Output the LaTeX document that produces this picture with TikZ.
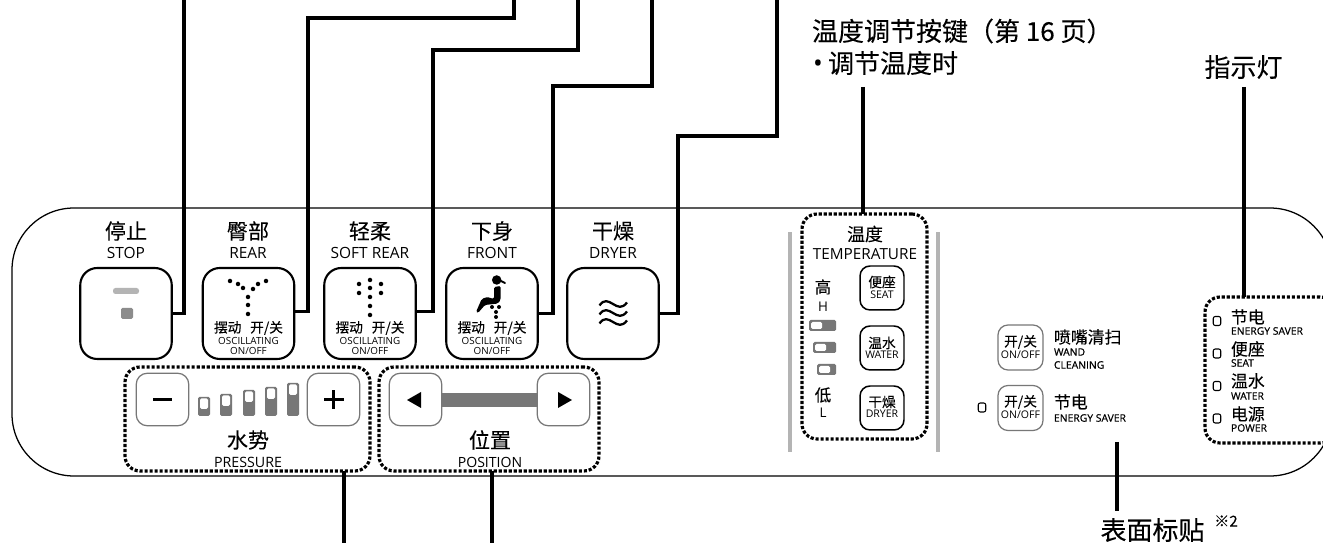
\documentclass[tikz,border=0pt]{standalone}
\usepackage{fontspec}
\setmainfont{Open Sans}
\newfontfamily\cjk{Noto Sans CJK SC}[FakeBold=0.1]
\newfontfamily\enbold{Open Sans}[FakeBold=0.6]
\usepackage{xcolor}
\definecolor{darkgray}{HTML}{777777}
\definecolor{midgray}{HTML}{8C8C8C}
\definecolor{railgray}{HTML}{B4B4B4}
\newcommand{\sz}[1]{\fontsize{#1}{#1}\selectfont}

\tikzset{
every node/.style = {inner sep=0pt, outer sep=0pt, align=center},
panel/.style = {draw, line width=0.72pt, rounded corners=1.24cm},
lead/.style = {draw, line width=1.8pt},
bigbtn/.style = {draw, line width=1.2pt, rounded corners=0.34cm, minimum width=1.83cm, minimum height=1.82cm},
softbtn/.style = {draw=darkgray, line width=0.7pt, rounded corners=0.22cm, minimum width=1.05cm, minimum height=1.05cm},
smallbtn/.style = {draw, line width=0.85pt, rounded corners=0.2cm, minimum width=0.88cm, minimum height=0.88cm},
onoffbtn/.style = {draw=darkgray, line width=0.7pt, rounded corners=0.2cm, minimum width=0.9cm, minimum height=0.9cm},
dotbox/.style = {draw, line width=1.8pt, dash pattern=on 1.8pt off 1.05pt, rounded corners=0.3cm},
led/.style = {draw, line width=0.6pt, rounded corners=0.04cm, minimum width=0.15cm, minimum height=0.18cm},
cnbig/.style = {font=\cjk\sz{14.8}},
cnmid/.style = {font=\cjk\sz{12}},
cnsmall/.style = {font=\cjk\sz{7.8}},
enmid/.style = {font=\sz{8.8}},
ensmall/.style = {font=\sz{5.6}},
enbtn/.style = {font=\sz{6}},
enside/.style = {font=\enbold\sz{5.9}, anchor=west},
cnside/.style = {font=\cjk\sz{9.6}, anchor=west},
}

\begin{document}
\begin{tikzpicture}[x=0.02cm, y=-0.02cm]
  \clip (0,0) rectangle (1323,543);
  \path[fill=white] (0,0) rectangle (1323,543);
  % panel outline
  \draw[panel] (12,208) rectangle (1332,476);

  % big buttons
  \node[bigbtn] (stopbtn) at (126,313.5) {};
  \node[bigbtn] (rearbtn) at (248.5,313.5) {};
  \node[bigbtn] (softrearbtn) at (370,313.5) {};
  \node[bigbtn] (frontbtn) at (492,313.5) {};
  \node[bigbtn] (dryerbtn) at (613,313.5) {};

  \node[cnmid] (stopcn) at (126,231) {停止};
  \node[enmid] (stopen) at (126,253) {STOP};
  \node[cnmid] (rearcn) at (248,231) {臀部};
  \node[enmid] (rearen) at (248,253) {REAR};
  \node[cnmid] (softrearcn) at (370,231) {轻柔};
  \node[enmid] (softrearen) at (370,253) {SOFT REAR};
  \node[cnmid] (frontcn) at (492,231) {下身};
  \node[enmid] (fronten) at (492,253) {FRONT};
  \node[cnmid] (dryercn) at (613,231) {干燥};
  \node[enmid] (dryeren) at (613,253) {DRYER};

  % oscillating captions
  \foreach \name/\xx in {rear/248.5,soft/370,front/492}{
    \node[cnsmall] (\name osc) at (\xx,328) {摆动\hspace{5pt}开/关};
    \node[ensmall] (\name oscen) at (\xx,341) {OSCILLATING};
    \node[ensmall] (\name onoff) at (\xx,351) {ON/OFF};
  }

  % stop icon
  \fill[railgray, rounded corners=0.05cm] (113,288) rectangle (139,294);
  \fill[midgray, rounded corners=0.03cm] (121,308) rectangle (133,319);
  % rear icon
  \foreach \xx/\yy in {230/281,238/284,243/288,253/289,258/284,266/281,248/297,248/305,248/314}
    \fill (\xx,\yy) circle (0.045cm);
  % soft rear icon
  \foreach \xx/\yy in {359/284,359/293,370/280,370/288,370/297,370/306,370/315,381/284,381/293}
    \fill (\xx,\yy) circle (0.045cm);
  % front icon
  \fill (496.7,280) circle (0.095cm);
  \draw[line width=1.1pt, line cap=round] (499,280) -- (505,283);
  \fill[rounded corners=0.03cm] (494,287) -- (500.7,286) -- (500.5,300) -- (498,303.5) -- (485,305) -- (478,313) -- (476,312) -- (481.7,299) -- (487,297) -- (494,299) -- cycle;
  \foreach \xx/\yy in {492/307,499/307,496/312,496/317}
    \fill (\xx,\yy) circle (0.04cm);
  % dryer icon
  \foreach \yy in {304,313,322}
    \draw[line width=1.3pt] (599.5,\yy+1.5) .. controls (604,\yy-5) and (608,\yy-3) .. (613,\yy) .. controls (618,\yy+3) and (622,\yy+5) .. (627,\yy-1.5);

  % pressure
  \node[dotbox, minimum width=4.9cm, minimum height=2.08cm] (pressurebox) at (247.5,419) {};
  \node[softbtn] (minusbtn) at (162.5,399.5) {};
  \node[softbtn] (plusbtn) at (333.5,399.5) {};
  \fill (153,398) rectangle (172,401);
  \fill (323.5,398) rectangle (343.5,401);
  \fill (332,390) rectangle (335,409);
  \foreach \xx/\tt in {198/397,220/394,243/390,265/387,287/383}{
    \fill[darkgray, rounded corners=0.03cm] (\xx,\tt) rectangle (\xx+12,416);
    \fill[white, rounded corners=0.03cm] (\xx+2,\tt+1.5) rectangle (\xx+10,\tt+12);
  }
  \node[cnmid] (pressurecn) at (248,440) {水势};
  \node[font=\sz{8.1}] (pressureen) at (248,462) {PRESSURE};

  % position
  \fill[darkgray] (442,393) rectangle (537,407);
  \node[dotbox, minimum width=4.4cm, minimum height=2.08cm] (positionbox) at (489,419) {};
  \node[softbtn, fill=white] (leftbtn) at (415.5,399.5) {};
  \node[softbtn, fill=white] (rightbtn) at (563.5,399.5) {};
  \fill (407,400) -- (421,392) -- (421,408) -- cycle;
  \fill (572,400) -- (558,392) -- (558,408) -- cycle;
  \node[cnmid] (positioncn) at (490,440) {位置};
  \node[font=\sz{8}] (positionen) at (490,462) {POSITION};

  % temperature
  \fill[railgray] (788,232) rectangle (792,452);
  \fill[railgray] (936,232) rectangle (940,452);
  \node[dotbox, fill=white, minimum width=2.5cm, minimum height=4.5cm] (tempbox) at (864.5,326.5) {};
  \node[font=\cjk\sz{10.2}] (tempcn) at (865,234) {温度};
  \node[font=\sz{8.7}] (tempen) at (865,254) {TEMPERATURE};
  \node[font=\cjk\sz{9.4}] (highcn) at (823,287) {高};
  \node[font=\sz{7.6}] (highen) at (823,307) {H};
  \node[font=\cjk\sz{9.4}] (lowcn) at (823,395) {低};
  \node[font=\sz{7.6}] (lowen) at (823,413) {L};
  \foreach \xx/\yy in {809/320,813/342,817/364}{
    \fill[darkgray, rounded corners=0.03cm] (\xx,\yy) rectangle (836,\yy+11);
    \fill[white, rounded corners=0.03cm] (\xx+2,\yy+2) rectangle (\xx+13,\yy+9);
  }
  \node[smallbtn] (seatbtn) at (882,288) {};
  \node[smallbtn] (waterbtn) at (882,348) {};
  \node[smallbtn] (tempdryerbtn) at (882,408) {};
  \node[cnsmall] (seatcn) at (882,282) {便座};
  \node[enbtn] (seaten) at (882,295) {SEAT};
  \node[cnsmall] (watercn) at (882,343) {温水};
  \node[enbtn] (wateren) at (882,355) {WATER};
  \node[cnsmall] (tempdryercn) at (882,402) {干燥};
  \node[enbtn] (tempdryeren) at (882,414) {DRYER};

  % wand and saver
  \node[onoffbtn] (wandbtn) at (1020.5,347.5) {};
  \node[onoffbtn] (saverbtn) at (1020.5,408) {};
  \node[cnsmall] (wandcn) at (1020.5,342) {开/关};
  \node[enbtn] (wanden) at (1020.5,355) {ON/OFF};
  \node[cnsmall] (savercn) at (1020.5,402) {开/关};
  \node[enbtn] (saveren) at (1020.5,415) {ON/OFF};
  \node[led] (saverled) at (982,407.5) {};
  \node[cnside] (wandlabel) at (1054,337) {喷嘴清扫};
  \node[enside] (wandone) at (1054,352) {WAND};
  \node[enside] (wandtwo) at (1054,365) {CLEANING};
  \node[cnside] (saverlabel) at (1054,402) {节电};
  \node[enside] (saverside) at (1054,418) {ENERGY SAVER};

  % indicators
  \node[dotbox, minimum width=2.6cm, minimum height=2.92cm] (lampbox) at (1270,370) {};
  \node[led] (lampa) at (1217,321) {};
  \node[led] (lampb) at (1217,353.5) {};
  \node[led] (lampc) at (1217,386) {};
  \node[led] (lampd) at (1217,418.5) {};
  \node[cnside] (lampacn) at (1231,317) {节电};
  \node[enside] (lampaen) at (1231,331) {ENERGY SAVER};
  \node[cnside] (lampbcn) at (1231,349) {便座};
  \node[enside] (lampben) at (1231,363) {SEAT};
  \node[cnside] (lampccn) at (1231,381) {温水};
  \node[enside] (lampcen) at (1231,396) {WATER};
  \node[cnside] (lampdcn) at (1231,414) {电源};
  \node[enside] (lampden) at (1231,428) {POWER};

  % captions
  \node[cnbig, anchor=west] (tempnote) at (812,31) {温度调节按键（第 16 页）};
  \node[cnbig, anchor=west] (tempnotetwo) at (813,63) {{\rmfamily •}\kern3pt 调节温度时};
  \node[cnbig] (lampnote) at (1243.5,67) {指示灯};
  \node[cnbig] (sticker) at (1152.5,530) {表面标贴};
  \node[font=\cjk\sz{8.6}] (stickermark) at (1226,521) {※2};

  % free ends of the leaders
  \coordinate (stoptop) at (184,0);
  \coordinate (rearbend) at (308,18);
  \coordinate (reartop) at (514,0);
  \coordinate (softbend) at (433,50);
  \coordinate (softtop) at (578,0);
  \coordinate (frontbend) at (553,86);
  \coordinate (fronttop) at (652,0);
  \coordinate (dryerbend) at (678,136);
  \coordinate (dryertop) at (777,0);
  \coordinate (tempend) at (863,87);
  \coordinate (lampend) at (1244,87);
  \coordinate (pressureend) at (344,543);
  \coordinate (positionend) at (492,543);
  \coordinate (stickertop) at (1117,442);
  \coordinate (stickerend) at (1117,511);

  \draw[lead] (stopbtn.east) -| (stoptop);
  \draw[lead] ([yshift=0.04cm]rearbtn.east) -| (rearbend) -| (reartop);
  \draw[lead] ([yshift=0.04cm]softrearbtn.east) -| (softbend) -| (softtop);
  \draw[lead] (frontbtn.east) -| (frontbend) -| (fronttop);
  \draw[lead] (dryerbtn.east) -| (dryerbend) -| (dryertop);
  \draw[lead] (tempend) -- (tempend |- tempbox.north);
  \draw[lead] (lampend) -- (lampend |- lampbox.north);
  \draw[lead] (pressurebox.south -| pressureend) -- (pressureend);
  \draw[lead] (positionbox.south -| positionend) -- (positionend);
  \draw[lead] (stickertop) -- (stickerend);
\end{tikzpicture}
\end{document}
